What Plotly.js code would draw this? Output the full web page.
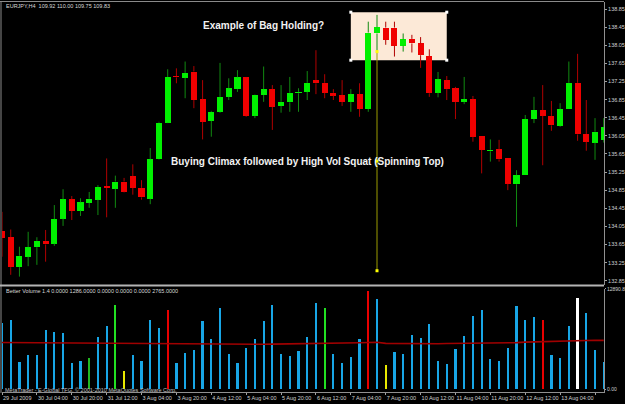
<!DOCTYPE html>
<html><head><meta charset="utf-8">
<script src="https://cdn.plot.ly/plotly-3.0.1.min.js"></script>
<style>html,body{margin:0;padding:0;background:#000;}#chart{width:625px;height:404px;}</style>
</head><body><div id="chart"></div>
<script>
// ---- data (EURJPY H4) ----
const openP  = [133.95,133.81,133.15,133.38,133.59,133.73,133.67,134.22,134.65,134.40,
                134.57,134.64,134.94,134.88,135.04,135.16,134.90,134.66,135.53,136.34,
                137.37,137.33,137.47,136.86,136.38,136.58,136.91,137.08,137.34,136.49,
                136.95,137.08,136.71,136.79,136.99,137.02,137.28,137.22,137.00,136.95,
                136.80,136.97,136.64,138.31,138.44,138.44,138.04,138.19,138.09,137.81,
                137.00,137.28,137.10,136.80,136.86,136.05,135.71,135.75,135.55,134.98,
                135.18,136.42,136.62,136.49,136.27,136.64,137.22,136.09,135.90,135.96];
const highP  = [134.37,133.98,133.60,133.93,133.81,133.97,134.52,134.87,134.72,134.67,
                134.81,134.96,135.55,135.17,135.12,135.42,135.07,135.78,136.36,137.52,
                137.54,137.69,137.59,137.28,136.60,137.66,137.32,137.50,137.35,136.96,
                137.58,137.17,137.17,137.35,137.10,137.48,137.94,137.41,137.08,137.28,
                137.08,137.21,138.57,138.72,138.57,138.57,138.31,138.28,138.23,137.96,
                137.46,137.37,137.13,137.35,136.93,136.05,135.97,135.96,135.55,135.29,
                136.51,136.91,137.17,136.82,136.77,137.69,137.86,136.84,136.44,136.44];
const lowP   = [133.38,132.98,132.94,133.17,133.20,133.27,133.62,134.06,134.19,134.28,
                134.46,134.30,134.25,134.46,134.80,134.75,134.64,134.54,135.52,136.33,
                137.21,136.88,136.66,135.97,136.03,136.56,136.84,137.02,136.47,136.44,
                136.80,136.18,136.56,136.58,136.58,136.84,136.97,136.88,136.84,136.71,
                136.58,136.47,136.58,137.91,138.06,137.80,137.91,137.89,137.55,136.91,
                136.90,136.84,136.42,136.75,135.92,135.22,135.48,135.48,134.85,134.04,
                135.18,136.33,135.40,136.16,136.25,136.64,135.94,135.72,135.52,135.90];
const closeP = [133.79,133.15,133.40,133.59,133.73,133.65,134.21,134.65,134.39,134.58,
                134.66,134.92,134.90,135.04,134.82,134.90,134.69,135.53,136.34,137.35,
                137.34,137.44,136.84,136.36,136.58,136.91,137.10,137.34,136.49,136.95,
                137.08,136.69,136.80,137.00,137.02,137.22,137.21,137.00,136.94,136.80,
                136.97,136.64,138.33,138.45,138.17,138.04,138.18,138.09,137.83,136.99,
                137.30,137.08,136.80,136.86,136.03,135.74,135.74,135.53,134.99,135.18,
                136.42,136.62,136.49,136.28,136.64,137.22,136.08,135.92,136.14,136.24];
const volume = [8558,8905,3508,4446,4446,7620,7363,7235,3341,3637,
                3984,6759,8134,10833,2352,4408,3637,8905,7916,10190,
                3418,4665,5050,8777,6464,10486,4536,3341,5346,6464,
                8815,10833,4536,4318,4960,6759,11090,10409,4575,3341,
                4151,6464,12670,11604,3084,4832,4498,6978,6631,8391,
                3675,3213,5179,6849,9381,10229,3855,3637,5346,10704,
                8944,9291,8944,4408,3984,8173,11771,9843,5050,3547];
// Better Volume classes: n normal, g low-vol churn, G high churn, y low volume, r climax, w climax churn
const volType = ['n','n','n','n','n','n','n','n','n','n',
                 'g','n','n','G','y','n','n','n','n','r',
                 'n','n','n','n','n','n','n','n','n','n',
                 'n','n','n','n','n','n','n','G','n','n',
                 'n','n','r','n','y','n','n','n','n','n',
                 'n','n','n','n','n','n','n','n','n','n',
                 'n','n','r','n','n','n','w','n','n','n'];
const volAvg = [6010,6000,5990,5990,5980,5970,5960,5960,5950,5950,
                5940,5930,5920,5910,5900,5890,5880,5880,5870,5880,
                5860,5850,5840,5830,5820,5810,5800,5790,5790,5780,
                5790,5800,5810,5830,5850,5870,5900,5910,5920,5940,
                5960,5980,6010,6040,5900,5880,5870,5860,5860,5850,
                5860,5880,5890,5900,5910,5910,5920,5930,5940,6000,
                6060,6100,6120,6140,6160,6250,6280,6300,6300,6290];
const priceTicks = [138.85,138.45,138.05,137.65,137.25,136.85,136.45,136.05,135.65,135.25,134.85,134.45,134.05,133.65,133.25,132.85];
const dateTickBars = [0,4,8,12,16,20,24,28,32,36,40,44,48,52,56,60,64,68];
const dateLabels = ['29 Jul 2009','30 Jul 04:00','30 Jul 20:00','31 Jul 12:00','3 Aug 04:00','3 Aug 20:00',
  '4 Aug 12:00','5 Aug 04:00','5 Aug 20:00','6 Aug 12:00','7 Aug 04:00','7 Aug 20:00',
  '10 Aug 12:00','11 Aug 04:00','11 Aug 20:00','12 Aug 12:00','13 Aug 04:00','13 Aug 20:00'];
const volTicks = [12890.8, 0];
const volTickText = ['12890.8','0.00'];
// annotation objects
const bagBox = {x0:40, x1:51, y0:137.72, y1:138.78};
const climaxBar = 43, trendBottom = 133.07;

// ---- build ----
const idx = openP.map((_, i) => i);
const FONT = 'Liberation Sans, Arial, sans-serif';
const up = idx.filter(i => closeP[i] >= openP[i]);
const dn = idx.filter(i => closeP[i] < openP[i]);
function bodyTrace(list, color) {
  return {type:'bar', x:list, base:list.map(i => Math.min(openP[i], closeP[i])),
    y:list.map(i => Math.max(Math.abs(closeP[i]-openP[i]), 0.025)), width:0.7,
    marker:{color:color, line:{width:0}}, xaxis:'x', yaxis:'y', hoverinfo:'skip'};
}
function wickTrace(list, color) {
  const xs = [], ys = [];
  list.forEach(i => {
    const top = Math.max(openP[i], closeP[i]), bot = Math.min(openP[i], closeP[i]);
    xs.push(i, i, null, i, i, null);
    ys.push(highP[i], top, null, bot, lowP[i], null);
  });
  return {type:'scatter', mode:'lines', x:xs, y:ys, line:{color:color, width:1},
    xaxis:'x', yaxis:'y', hoverinfo:'skip', connectgaps:false};
}
const volColors = {n:'#18A6E6', g:'#22B822', G:'#22E022', y:'#E8E800', r:'#E80000', w:'#FFFFFF'};

const traces = [
  wickTrace(up, '#118A11'), wickTrace(dn, '#B00000'),
  bodyTrace(up, '#00F000'), bodyTrace(dn, '#F00000'),
  {type:'scatter', mode:'markers', x:[bagBox.x0,bagBox.x1,bagBox.x0,bagBox.x1], y:[bagBox.y1,bagBox.y1,bagBox.y0,bagBox.y0],
    marker:{symbol:'square', size:3, color:'#FFFFFF'}, xaxis:'x', yaxis:'y', hoverinfo:'skip'},
  {type:'scatter', mode:'lines', x:[climaxBar, climaxBar], y:[lowP[climaxBar], trendBottom],
    line:{color:'#9C9C00', width:1}, xaxis:'x', yaxis:'y', hoverinfo:'skip'},
  {type:'scatter', mode:'markers', x:[climaxBar, climaxBar, climaxBar], y:[lowP[climaxBar], (lowP[climaxBar]+trendBottom)/2, trendBottom],
    marker:{symbol:'square', size:3, color:'#FFFF00'}, xaxis:'x', yaxis:'y', hoverinfo:'skip'},
  {type:'bar', x:idx, y:volume, width:0.25, marker:{color:volType.map(t => volColors[t]), line:{width:0}},
    xaxis:'x2', yaxis:'y2', hoverinfo:'skip'},
  {type:'scatter', mode:'lines', x:idx, y:volAvg, line:{color:'#A00000', width:1.6},
    xaxis:'x2', yaxis:'y2', hoverinfo:'skip'}
];

const W = 625, H = 404;
const px = v => v / W, py = v => 1 - v / H;
const axFont = {family:FONT, size:5.5, color:'#D0D0D0'};
const layout = {
  width:W, height:H, margin:{l:0, r:0, t:0, b:0},
  paper_bgcolor:'#000000', plot_bgcolor:'#000000', showlegend:false,
  barmode:'overlay', bargap:0,
  xaxis:{domain:[px(2), px(604)], range:[0, 69.03], anchor:'y', showticklabels:false,
    showgrid:false, zeroline:false, showline:false, fixedrange:true},
  yaxis:{domain:[py(285), py(2)], range:[132.755, 139.005], anchor:'x', side:'right',
    tickvals:priceTicks, ticktext:priceTicks.map(v => v.toFixed(2)), ticks:'outside', ticklen:2,
    tickcolor:'#A0A0A0', tickfont:axFont, showgrid:false, zeroline:false,
    showline:true, linecolor:'#909090', linewidth:1},
  xaxis2:{domain:[px(2), px(604)], matches:'x', anchor:'y2', tickvals:dateTickBars, ticktext:dateLabels,
    ticks:'outside', ticklen:2, tickcolor:'#A0A0A0', tickangle:0, ticklabelposition:'outside right',
    tickfont:axFont, showgrid:false, zeroline:false, showline:true, linecolor:'#909090', linewidth:1},
  yaxis2:{domain:[py(392), py(288.5)], range:[-347, 12953], anchor:'x2', side:'right',
    tickvals:volTicks, ticktext:volTickText, ticks:'outside', ticklen:1, tickcolor:'#A0A0A0',
    tickfont:{family:FONT, size:5, color:'#D0D0D0'}, showgrid:false, zeroline:false,
    showline:true, linecolor:'#909090', linewidth:1},
  shapes:[
    {type:'rect', xref:'x', yref:'y', x0:bagBox.x0, x1:bagBox.x1, y0:bagBox.y0, y1:bagBox.y1,
      fillcolor:'#FCE9D7', line:{width:0}, layer:'below'},
    {type:'line', xref:'paper', yref:'paper', x0:0, x1:px(604), y0:py(1.5), y1:py(1.5), line:{color:'#8A8A8A', width:1}},
    {type:'line', xref:'paper', yref:'paper', x0:px(1), x1:px(1), y0:py(1.5), y1:py(393), line:{color:'#8A8A8A', width:1}},
    {type:'line', xref:'paper', yref:'paper', x0:0, x1:px(604), y0:py(285.5), y1:py(285.5), line:{color:'#B4B4B4', width:2}}
  ],
  annotations:[
    {xref:'paper', yref:'paper', x:px(4), y:py(6), xanchor:'left', yanchor:'middle', showarrow:false,
      text:'EURJPY,H4  109.92 110.00 109.75 109.83', font:{family:FONT, size:5.5, color:'#D8D8D8'}},
    {xref:'paper', yref:'paper', x:px(4), y:py(291), xanchor:'left', yanchor:'middle', showarrow:false,
      text:'Better Volume 1.4 0.0000 1286.0000 0.0000 0.0000 0.0000 2765.0000', font:{family:FONT, size:5.5, color:'#D8D8D8'}},
    {xref:'paper', yref:'paper', x:px(3), y:py(389.5), xanchor:'left', yanchor:'middle', showarrow:false,
      text:'MetaTrader - E-Global TFG, © 2001-2010 MetaQuotes Software Corp.', font:{family:FONT, size:5.5, color:'#C0C0C0'}},
    {xref:'paper', yref:'paper', x:px(263), y:py(25), xanchor:'center', yanchor:'middle', showarrow:false,
      text:'<b>Example of Bag Holding?</b>', font:{family:FONT, size:10, color:'#F2F2F2'}},
    {xref:'paper', yref:'paper', x:px(307), y:py(161), xanchor:'center', yanchor:'middle', showarrow:false,
      text:'<b>Buying Climax followed by High Vol Squat (Spinning Top)</b>', font:{family:FONT, size:10, color:'#F2F2F2'}}
  ]
};
Plotly.newPlot('chart', traces, layout, {displayModeBar:false, staticPlot:true});
</script>
</body></html>
